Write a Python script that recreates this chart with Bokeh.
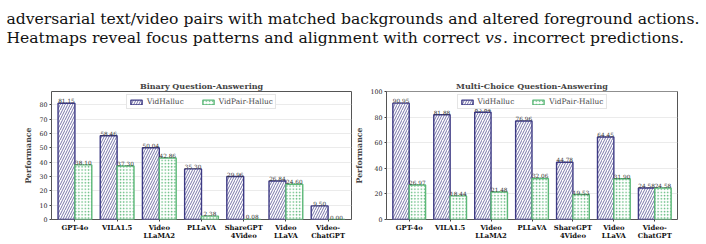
from bokeh.plotting import figure
from bokeh.models import ColumnDataSource, Range1d, FixedTicker
from bokeh.layouts import column, row
from bokeh.core.properties import value
from bokeh.embed import file_html
from bokeh.resources import INLINE

# ---------------- data ----------------
models = ["GPT-4o", "VILA1.5", "Video\nLLaMA2", "PLLaVA", "ShareGPT\n4Video", "Video\nLLaVA", "Video-\nChatGPT"]
series_names = ["VidHalluc", "VidPair-Halluc"]

binary_vidhalluc = [81.15, 58.46, 50.04, 35.30, 29.96, 26.84, 9.50]
binary_vidpair = [38.10, 37.30, 42.86, 2.38, 0.08, 24.60, 0.00]

mcq_vidhalluc = [90.95, 81.88, 83.84, 76.96, 44.78, 64.45, 24.58]
mcq_vidpair = [26.97, 18.44, 21.48, 32.06, 19.53, 31.90, 24.58]

binary_ticks = [0, 10, 20, 30, 40, 50, 60, 70, 80]
mcq_ticks = [0, 20, 40, 60, 80, 100]

caption_line1 = "adversarial text/video pairs with matched backgrounds and altered foreground actions."
caption_line2 = ["Heatmaps reveal focus patterns and alignment with correct", "vs", ". incorrect predictions."]

# ---------------- styles ----------------
PURPLE = "#3d3a84"
GREEN = "#5cb878"
FONT = "DejaVu Serif"
CAP_SIZE = 15.6


def make_chart(title, a, b, ticks, ymax, width, mbl, mbr):
    n = len(models)
    xs = list(range(n))
    p = figure(width=width, height=169, output_backend="svg", toolbar_location=None,
               x_range=Range1d(-0.555, n - 1 + 0.555), y_range=Range1d(0, ymax),
               min_border_left=mbl, min_border_right=mbr, min_border_top=16, min_border_bottom=25,
               title=title, margin=(0, 0, 0, 0))
    p.title.text_font = FONT
    p.title.text_font_size = "8px"
    p.title.text_font_style = "bold"
    p.title.align = "center"
    p.title.standoff = 1
    p.title.offset = 0

    src_a = ColumnDataSource(dict(x=[i - 0.2 for i in xs], top=a, lab=["%.2f" % v for v in a]))
    src_b = ColumnDataSource(dict(x=[i + 0.2 for i in xs], top=b, lab=["%.2f" % v for v in b]))

    p.vbar(x="x", top="top", width=0.4, source=src_a, fill_color="white",
           line_color=PURPLE, line_width=1.4, hatch_pattern="/", hatch_color=PURPLE,
           hatch_scale=5, hatch_weight=0.7, legend_label=series_names[0])
    p.vbar(x="x", top="top", width=0.4, source=src_b, fill_color="white",
           line_color=GREEN, line_width=1.4, hatch_pattern=".", hatch_color=GREEN,
           hatch_scale=3.2, hatch_weight=0.8, legend_label=series_names[1])

    for src in (src_a, src_b):
        p.text(x="x", y="top", text="lab", source=src, text_align="center",
               text_baseline="bottom", text_font=value(FONT), text_font_size="5.8px",
               text_color="#333333", y_offset=0)

    p.xaxis.ticker = FixedTicker(ticks=xs)
    p.xaxis.major_label_overrides = {i: m for i, m in enumerate(models)}
    p.xaxis.major_label_text_font = FONT
    p.xaxis.major_label_text_font_size = "6.8px"
    p.xaxis.major_label_text_font_style = "bold"
    p.xaxis.major_label_text_color = "#111111"
    p.xaxis.major_label_text_line_height = 1.0
    p.xaxis.major_label_standoff = 2
    p.xaxis.major_tick_out = 2
    p.xaxis.major_tick_in = 0
    p.xaxis.minor_tick_line_color = None
    p.xaxis.axis_line_color = None
    p.xaxis.major_tick_line_color = "#444444"

    p.yaxis.ticker = FixedTicker(ticks=ticks)
    p.yaxis.major_label_text_font = FONT
    p.yaxis.major_label_text_font_size = "6.3px"
    p.yaxis.major_label_text_color = "#222222"
    p.yaxis.major_label_standoff = 2
    p.yaxis.major_tick_out = 2
    p.yaxis.major_tick_in = 0
    p.yaxis.minor_tick_line_color = None
    p.yaxis.axis_line_color = None
    p.yaxis.major_tick_line_color = "#444444"
    p.yaxis.axis_label = "Performance"
    p.yaxis.axis_label_text_font = FONT
    p.yaxis.axis_label_text_font_size = "7.8px"
    p.yaxis.axis_label_text_font_style = "bold"
    p.yaxis.axis_label_standoff = 3

    p.xgrid.grid_line_color = None
    p.ygrid.grid_line_color = "#e6e6e6"
    p.ygrid.grid_line_width = 0.8
    p.outline_line_color = "#555555"
    p.outline_line_width = 1
    p.background_fill_color = "white"
    p.border_fill_color = "white"

    lg = p.legend[0]
    lg.orientation = "horizontal"
    lg.location = "top_center"
    lg.label_text_font = FONT
    lg.label_text_font_size = "7.4px"
    lg.label_standoff = 4
    lg.spacing = 17
    lg.glyph_width = 14
    lg.glyph_height = 6
    lg.label_height = 7
    lg.padding = 2
    lg.margin = 3
    lg.border_line_color = "#cccccc"
    lg.border_line_width = 1
    lg.background_fill_alpha = 1
    return p


p1 = make_chart("Binary Question-Answering", binary_vidhalluc, binary_vidpair,
                binary_ticks, 89.3, 352, 51, 1)
p2 = make_chart("Multi-Choice Question-Answering", mcq_vidhalluc, mcq_vidpair,
                mcq_ticks, 100.05, 354, 26, 29)

# ---------------- caption (paper text above the charts) ----------------
cap = figure(width=706, height=75, output_backend="svg", toolbar_location=None,
             x_range=Range1d(0, 706), y_range=Range1d(75, 0),
             min_border=0, margin=(0, 0, 0, 0))
cap.axis.visible = False
cap.grid.grid_line_color = None
cap.outline_line_color = None
cap.background_fill_color = "white"
cap.border_fill_color = "white"

cap.text(x=[6], y=[18.3], text=[caption_line1], text_font=value(FONT),
         text_font_size=f"{CAP_SIZE}px", text_color="#111111", text_baseline="alphabetic")
# second line: upright / italic / upright pieces
cap.text(x=[6], y=[37.3], text=[caption_line2[0]], text_font=value(FONT),
         text_font_size=f"{CAP_SIZE}px", text_color="#111111", text_baseline="alphabetic")
cap.text(x=[6 + 30.68 * CAP_SIZE], y=[37.3], text=[caption_line2[1]], text_font=value(FONT),
         text_font_size=f"{CAP_SIZE}px", text_font_style="italic", text_color="#111111",
         text_baseline="alphabetic")
cap.text(x=[6 + 31.82 * CAP_SIZE], y=[37.3], text=[caption_line2[2]], text_font=value(FONT),
         text_font_size=f"{CAP_SIZE}px", text_color="#111111", text_baseline="alphabetic")

layout = column(cap, row(p1, p2, spacing=0, margin=(0, 0, 0, 0)), spacing=0, margin=(0, 0, 0, 0))
open("out.html", "w").write(file_html(layout, INLINE))
